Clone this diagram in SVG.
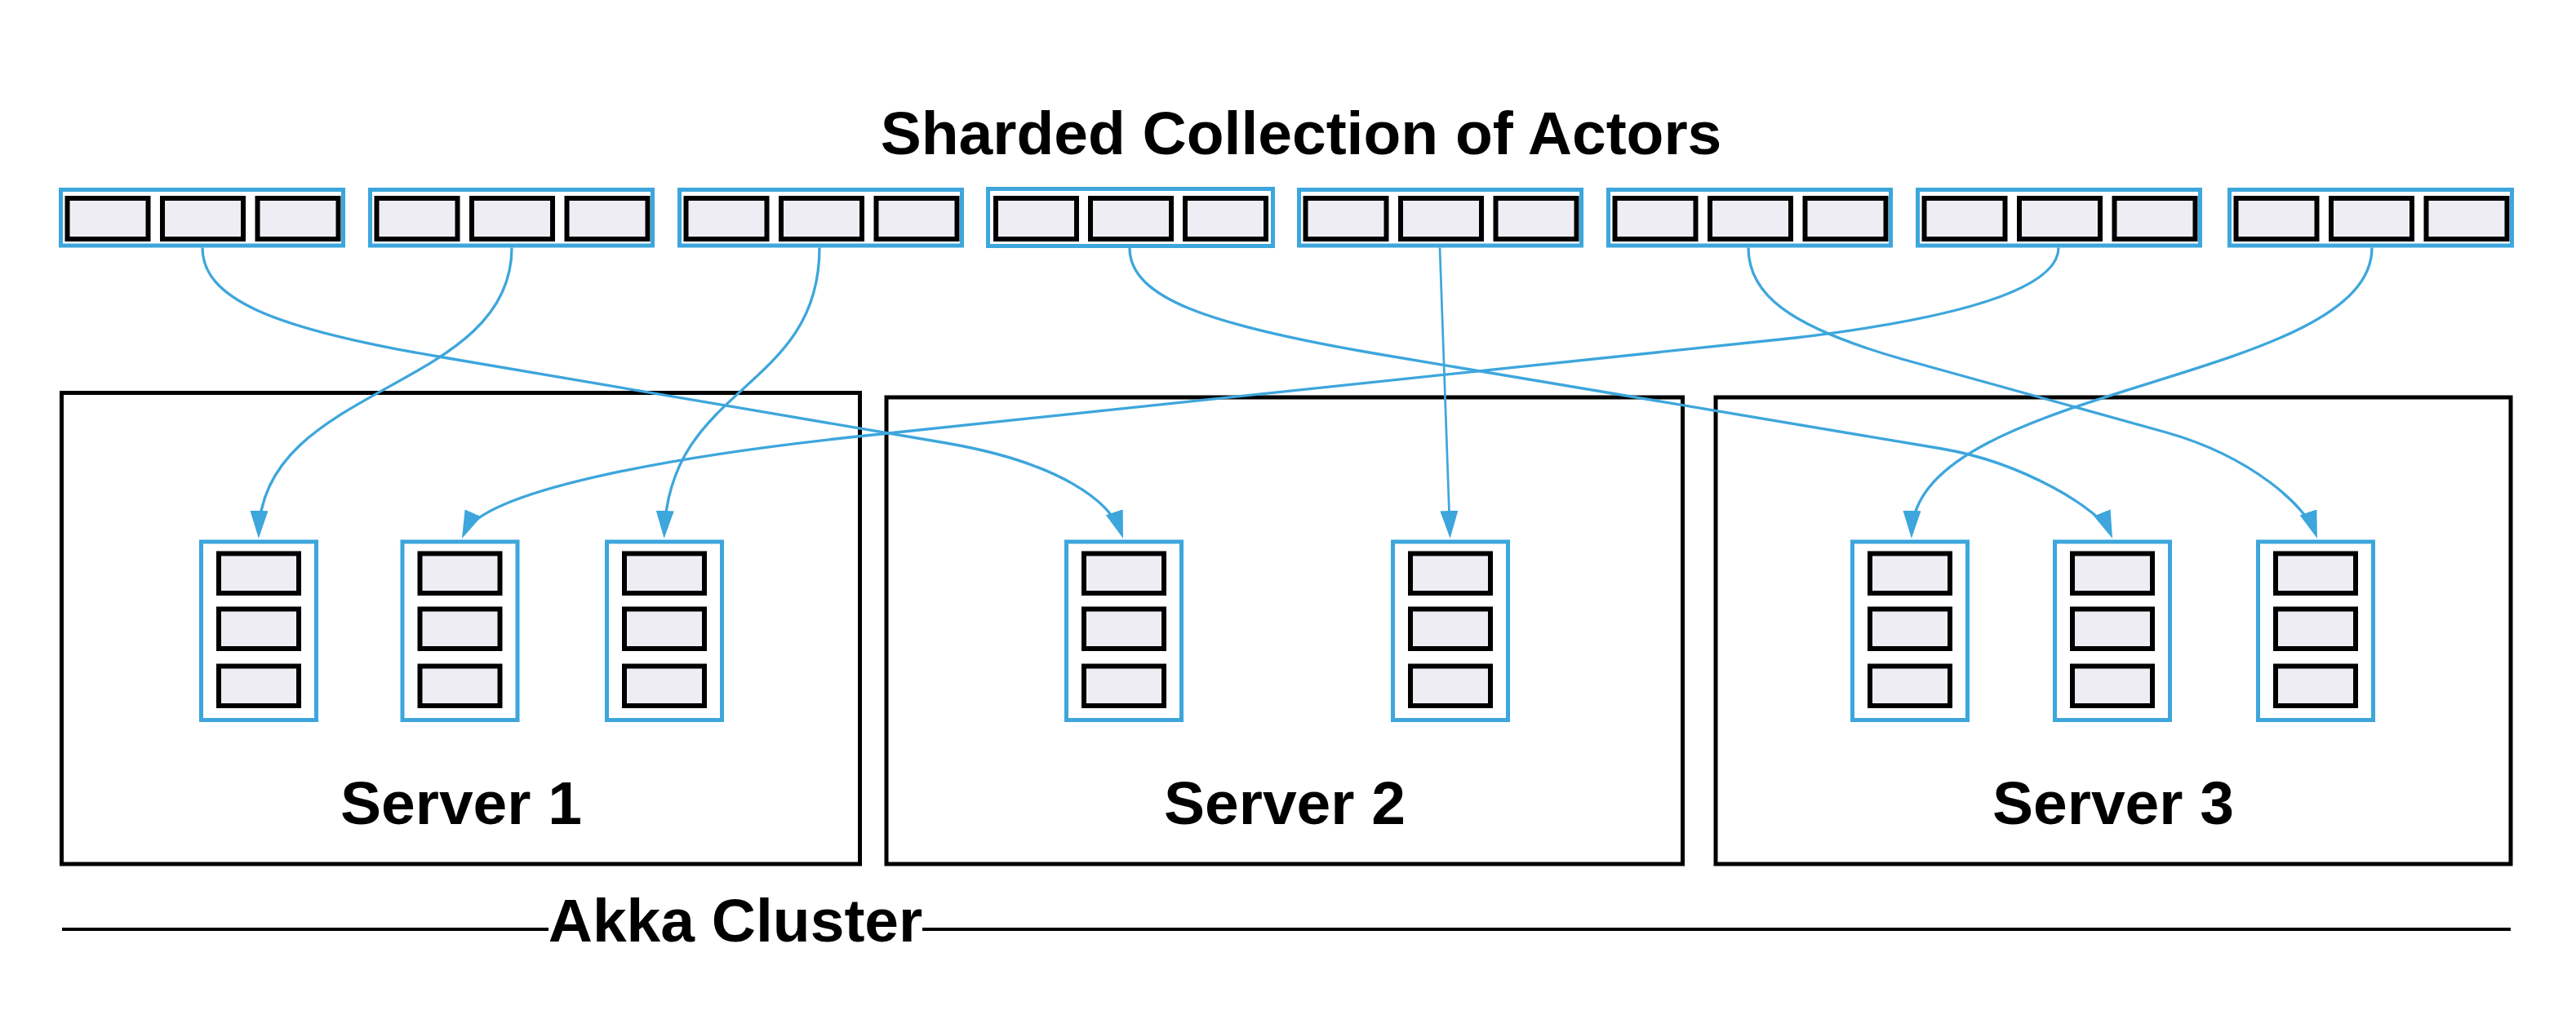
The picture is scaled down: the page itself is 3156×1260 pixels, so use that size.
<svg xmlns="http://www.w3.org/2000/svg" width="3156" height="1260" viewBox="0 0 3156 1260">
  <style>
    .bg { fill: #ffffff; }
    .server { fill: none; stroke: #000000; stroke-width: 5; }
    .frame { fill: #ffffff; stroke: #3da6dc; stroke-width: 5; }
    .actor { fill: #efedf4; stroke: #000000; stroke-width: 6; }
    .conn { fill: none; stroke: #3da6dc; stroke-width: 3.3; marker-end: url(#arrow); }
    .conn.thin { stroke-width: 2.7; }
    .label { font-family: "Liberation Sans", Arial, sans-serif; font-weight: bold; font-size: 75px; fill: #000000; text-anchor: middle; }
    .rule { stroke: #000000; stroke-width: 4; }
  </style>
  <defs>
    <marker id="arrow" markerUnits="userSpaceOnUse" markerWidth="34" markerHeight="22" viewBox="0 0 34 22" refX="28" refY="11" orient="auto">
      <path d="M0,0 L34,11 L0,22 z" fill="#3da6dc"/>
    </marker>
  </defs>
  <rect class="bg" x="0" y="0" width="3156" height="1260"/>

  <text id="title" class="label" x="1594" y="189">Sharded Collection of Actors</text>

  <!-- Servers -->
  <g id="server1">
    <rect class="server" x="75.5" y="481.5" width="978" height="577.5"/>
    <text class="label" x="565" y="1010">Server 1</text>
  </g>
  <g id="server2">
    <rect class="server" x="1086" y="487" width="975.5" height="572"/>
    <text class="label" x="1574" y="1010">Server 2</text>
  </g>
  <g id="server3">
    <rect class="server" x="2102" y="487" width="974" height="572"/>
    <text class="label" x="2589" y="1010">Server 3</text>
  </g>

  <!-- Sharded collection (top) -->
  <g id="shard1" transform="translate(72,230)">
    <rect class="frame" x="2.5" y="2.5" width="346" height="68.5"/>
    <rect class="actor" x="10.5" y="13" width="99" height="50"/>
    <rect class="actor" x="127" y="13" width="99" height="50"/>
    <rect class="actor" x="243.5" y="13" width="99" height="50"/>
  </g>
  <g id="shard2" transform="translate(451,230)">
    <rect class="frame" x="2.5" y="2.5" width="346" height="68.5"/>
    <rect class="actor" x="10.5" y="13" width="99" height="50"/>
    <rect class="actor" x="127" y="13" width="99" height="50"/>
    <rect class="actor" x="243.5" y="13" width="99" height="50"/>
  </g>
  <g id="shard3" transform="translate(830,230)">
    <rect class="frame" x="2.5" y="2.5" width="346" height="68.5"/>
    <rect class="actor" x="10.5" y="13" width="99" height="50"/>
    <rect class="actor" x="127" y="13" width="99" height="50"/>
    <rect class="actor" x="243.5" y="13" width="99" height="50"/>
  </g>
  <g id="shard4" transform="translate(1208,229)">
    <rect class="frame" x="2.5" y="2.5" width="349" height="70"/>
    <rect class="actor" x="12" y="14" width="99" height="50"/>
    <rect class="actor" x="128" y="14" width="99" height="50"/>
    <rect class="actor" x="244" y="14" width="99" height="50"/>
  </g>
  <g id="shard5" transform="translate(1589,230)">
    <rect class="frame" x="2.5" y="2.5" width="346" height="68.5"/>
    <rect class="actor" x="10.5" y="13" width="99" height="50"/>
    <rect class="actor" x="127" y="13" width="99" height="50"/>
    <rect class="actor" x="243.5" y="13" width="99" height="50"/>
  </g>
  <g id="shard6" transform="translate(1968,230)">
    <rect class="frame" x="2.5" y="2.5" width="346" height="68.5"/>
    <rect class="actor" x="10.5" y="13" width="99" height="50"/>
    <rect class="actor" x="127" y="13" width="99" height="50"/>
    <rect class="actor" x="243.5" y="13" width="99" height="50"/>
  </g>
  <g id="shard7" transform="translate(2347,230)">
    <rect class="frame" x="2.5" y="2.5" width="346" height="68.5"/>
    <rect class="actor" x="10.5" y="13" width="99" height="50"/>
    <rect class="actor" x="127" y="13" width="99" height="50"/>
    <rect class="actor" x="243.5" y="13" width="99" height="50"/>
  </g>
  <g id="shard8" transform="translate(2729,230)">
    <rect class="frame" x="2.5" y="2.5" width="346" height="68.5"/>
    <rect class="actor" x="10.5" y="13" width="99" height="50"/>
    <rect class="actor" x="127" y="13" width="99" height="50"/>
    <rect class="actor" x="243.5" y="13" width="99" height="50"/>
  </g>

  <!-- Shard columns inside servers -->
  <g id="col1" transform="translate(244,661.5)">
    <rect class="frame" x="2.5" y="2.5" width="141" height="218.5"/>
    <rect class="actor" x="24" y="17" width="98" height="48.5"/>
    <rect class="actor" x="24" y="85" width="98" height="48.5"/>
    <rect class="actor" x="24" y="155" width="98" height="48.5"/>
  </g>
  <g id="col2" transform="translate(490.5,661.5)">
    <rect class="frame" x="2.5" y="2.5" width="141" height="218.5"/>
    <rect class="actor" x="24" y="17" width="98" height="48.5"/>
    <rect class="actor" x="24" y="85" width="98" height="48.5"/>
    <rect class="actor" x="24" y="155" width="98" height="48.5"/>
  </g>
  <g id="col3" transform="translate(741,661.5)">
    <rect class="frame" x="2.5" y="2.5" width="141" height="218.5"/>
    <rect class="actor" x="24" y="17" width="98" height="48.5"/>
    <rect class="actor" x="24" y="85" width="98" height="48.5"/>
    <rect class="actor" x="24" y="155" width="98" height="48.5"/>
  </g>
  <g id="col4" transform="translate(1304,661.5)">
    <rect class="frame" x="2.5" y="2.5" width="141" height="218.5"/>
    <rect class="actor" x="24" y="17" width="98" height="48.5"/>
    <rect class="actor" x="24" y="85" width="98" height="48.5"/>
    <rect class="actor" x="24" y="155" width="98" height="48.5"/>
  </g>
  <g id="col5" transform="translate(1704,661.5)">
    <rect class="frame" x="2.5" y="2.5" width="141" height="218.5"/>
    <rect class="actor" x="24" y="17" width="98" height="48.5"/>
    <rect class="actor" x="24" y="85" width="98" height="48.5"/>
    <rect class="actor" x="24" y="155" width="98" height="48.5"/>
  </g>
  <g id="col6" transform="translate(2267,661.5)">
    <rect class="frame" x="2.5" y="2.5" width="141" height="218.5"/>
    <rect class="actor" x="24" y="17" width="98" height="48.5"/>
    <rect class="actor" x="24" y="85" width="98" height="48.5"/>
    <rect class="actor" x="24" y="155" width="98" height="48.5"/>
  </g>
  <g id="col7" transform="translate(2515,661.5)">
    <rect class="frame" x="2.5" y="2.5" width="141" height="218.5"/>
    <rect class="actor" x="24" y="17" width="98" height="48.5"/>
    <rect class="actor" x="24" y="85" width="98" height="48.5"/>
    <rect class="actor" x="24" y="155" width="98" height="48.5"/>
  </g>
  <g id="col8" transform="translate(2764,661.5)">
    <rect class="frame" x="2.5" y="2.5" width="141" height="218.5"/>
    <rect class="actor" x="24" y="17" width="98" height="48.5"/>
    <rect class="actor" x="24" y="85" width="98" height="48.5"/>
    <rect class="actor" x="24" y="155" width="98" height="48.5"/>
  </g>

  <!-- Akka Cluster rule -->
  <g id="cluster">
    <line class="rule" x1="76" y1="1139" x2="672" y2="1139"/>
    <line class="rule" x1="1130" y1="1139" x2="3076" y2="1139"/>
    <text class="label" x="901" y="1154">Akka Cluster</text>
  </g>

  <!-- Connectors -->
  <g id="connectors">
    <path class="conn" d="M248,303.5 C248,365 330,402 537,437 L1159,543 C1299,567 1361,615 1374.1,654.3"/>
    <path class="conn" d="M627,303.5 C627,480 320,470 317,654"/>
    <path class="conn" d="M1004,303.5 C1004,480 820,470 813.8,654"/>
    <path class="conn" d="M1384,304 C1384,365 1480,398 1683,433 L2379,550 C2479,567 2574,625 2585.8,654.4"/>
    <path class="conn thin" d="M1764,303.5 L1776.4,654"/>
    <path class="conn" d="M2142,303.5 C2142,360 2190,400 2330,440 L2654,530 C2760,560 2826,622 2837,654.3"/>
    <path class="conn" d="M2522,303.5 C2522,345 2440,385 2200,414 L1060,534 C810,560 591,603 568.4,654.5"/>
    <path class="conn" d="M2906,303.5 C2906,470 2345,470 2342,654"/>
  </g>
</svg>
